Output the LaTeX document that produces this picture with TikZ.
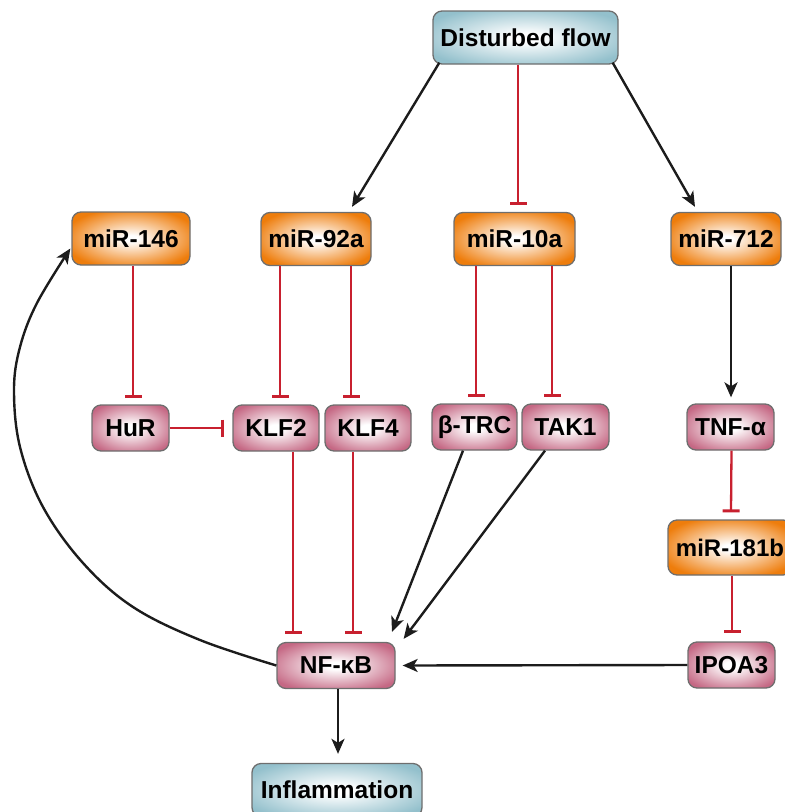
\documentclass[tikz,border=0pt]{standalone}
\usepackage{fontspec}
\setmainfont{Liberation Sans}
\usetikzlibrary{arrows.meta,calc}
\definecolor{cblue}{HTML}{93C0CC}
\definecolor{corange}{HTML}{EE7D0C}
\definecolor{cpink}{HTML}{C56884}
\definecolor{cborder}{HTML}{6E6E6E}
\definecolor{cred}{HTML}{C8202F}
\definecolor{cblack}{HTML}{1C1C1C}
\pgfdeclareradialshading{blueshade}{\pgfpoint{0bp}{0bp}}{color(0bp)=(white); color(4bp)=(white); color(30bp)=(cblue); color(100bp)=(cblue)}
\pgfdeclareradialshading{orangeshade}{\pgfpoint{0bp}{0bp}}{color(0bp)=(white); color(3bp)=(white); color(29bp)=(corange); color(100bp)=(corange)}
\pgfdeclareradialshading{pinkshade}{\pgfpoint{0bp}{0bp}}{color(0bp)=(white); color(4bp)=(white); color(30bp)=(cpink); color(100bp)=(cpink)}
\tikzset{
  box/.style={draw=cborder, line width=1.3pt, rounded corners=9pt, inner sep=0pt,
    font=\bfseries\fontsize{24.5}{24.5}\selectfont, text=black, align=center},
  bluebox/.style={box, shading=blueshade, minimum height=53pt},
  orangebox/.style={box, shading=orangeshade, minimum height=53pt},
  pinkbox/.style={box, shading=pinkshade, minimum height=46pt},
  arr/.style={draw=cblack, line width=2.4pt, -{Stealth[length=15pt,width=13pt,inset=4pt]}},
  inh/.style={draw=cred, line width=2.3pt, -{Bar[width=17pt,line width=3pt]}}
}
\begin{document}
\begin{tikzpicture}[x=1pt,y=-1pt]
\useasboundingbox (0,0) rectangle (785,812);
% nodes
\node[bluebox, minimum width=185pt] (df) at (525.5,37.5) {Disturbed flow};
\node[orangebox, minimum width=118pt] (m146) at (131,238.5) {miR-146};
\node[orangebox, minimum width=110pt] (m92) at (316,239) {miR-92a};
\node[orangebox, minimum width=121pt] (m10) at (514.5,239) {miR-10a};
\node[orangebox, minimum width=110pt] (m712) at (726,239) {miR-712};
\node[pinkbox, minimum width=77pt] (hur) at (130.5,428) {HuR};
\node[pinkbox, minimum width=86pt] (klf2) at (276,428) {KLF2};
\node[pinkbox, minimum width=86pt] (klf4) at (368,428) {KLF4};
\node[pinkbox, minimum width=85pt] (btrc) at (474.5,427) {β-TRC};
\node[pinkbox, minimum width=87pt] (tak1) at (565.5,427) {TAK1};
\node[pinkbox, minimum width=87pt] (tnf) at (730.5,427) {TNF-α};
\node[orangebox, minimum width=124pt, minimum height=55pt, font=\bfseries\fontsize{24}{24}\selectfont] (m181) at (730,547.5) {miR-181b};
\node[pinkbox, minimum width=87pt] (ipoa) at (731.5,665) {IPOA3};
\node[pinkbox, minimum width=118pt] (nfkb) at (336,665.5) {NF-κB};
\node[bluebox, minimum width=170pt] (infl) at (337,790) {Inflammation};
% connectors
\draw[arr] ([xshift=7pt,yshift=2pt]df.south west) -- ([xshift=36pt,yshift=5pt]m92.north);
\draw[arr] ([xshift=-6pt,yshift=2pt]df.south east) -- ([xshift=-31pt,yshift=5pt]m712.north);
\draw[inh] ([xshift=-7.5pt]df.south) -- ([xshift=3.5pt,yshift=7pt]m10.north);
\draw[inh] ([xshift=2pt]m146.south) -- ([xshift=2.5pt,yshift=6pt]hur.north);
\draw[inh] (hur.east) -- ([xshift=-8pt]klf2.west);
\draw[inh] ([xshift=-36pt]m92.south) -- ([xshift=4pt,yshift=6pt]klf2.north);
\draw[inh] ([xshift=35pt]m92.south) -- ([xshift=-17pt,yshift=6pt]klf4.north);
\draw[inh] ([xshift=-38.5pt]m10.south) -- ([xshift=1.5pt,yshift=6pt]btrc.north);
\draw[inh] ([xshift=37.5pt]m10.south) -- ([xshift=-13.5pt,yshift=6pt]tak1.north);
\draw[arr] ([xshift=5pt]m712.south) -- ([xshift=0.5pt,yshift=6pt]tnf.north);
\draw[inh] ([xshift=1pt]tnf.south) -- ([xshift=1pt,yshift=7pt]m181.north);
\draw[inh] ([xshift=2pt]m181.south) -- ([xshift=0.5pt,yshift=8pt]ipoa.north);
\draw[inh] ([xshift=17pt]klf2.south) -- ([xshift=-43pt,yshift=8pt]nfkb.north);
\draw[inh] ([xshift=-15pt]klf4.south) -- ([xshift=17pt,yshift=8pt]nfkb.north);
\draw[arr] ([xshift=-11.5pt]btrc.south) -- ([xshift=56pt,yshift=10pt]nfkb.north);
\draw[arr] ([xshift=-20.5pt]tak1.south) -- ([xshift=8pt,yshift=3pt]nfkb.north east);
\draw[arr] (ipoa.west) -- ([xshift=7pt]nfkb.east);
\draw[arr] ([xshift=2pt]nfkb.south) -- ([xshift=1pt,yshift=9pt]infl.north);
\draw[arr] plot[smooth, tension=0.6] coordinates {(nfkb.west) (200,640) (133,607) (83,563) (43,507) (20,447) (14,390) (20,347) (37,303) ([xshift=-1pt,yshift=-10pt]m146.west)};
\end{tikzpicture}
\end{document}
